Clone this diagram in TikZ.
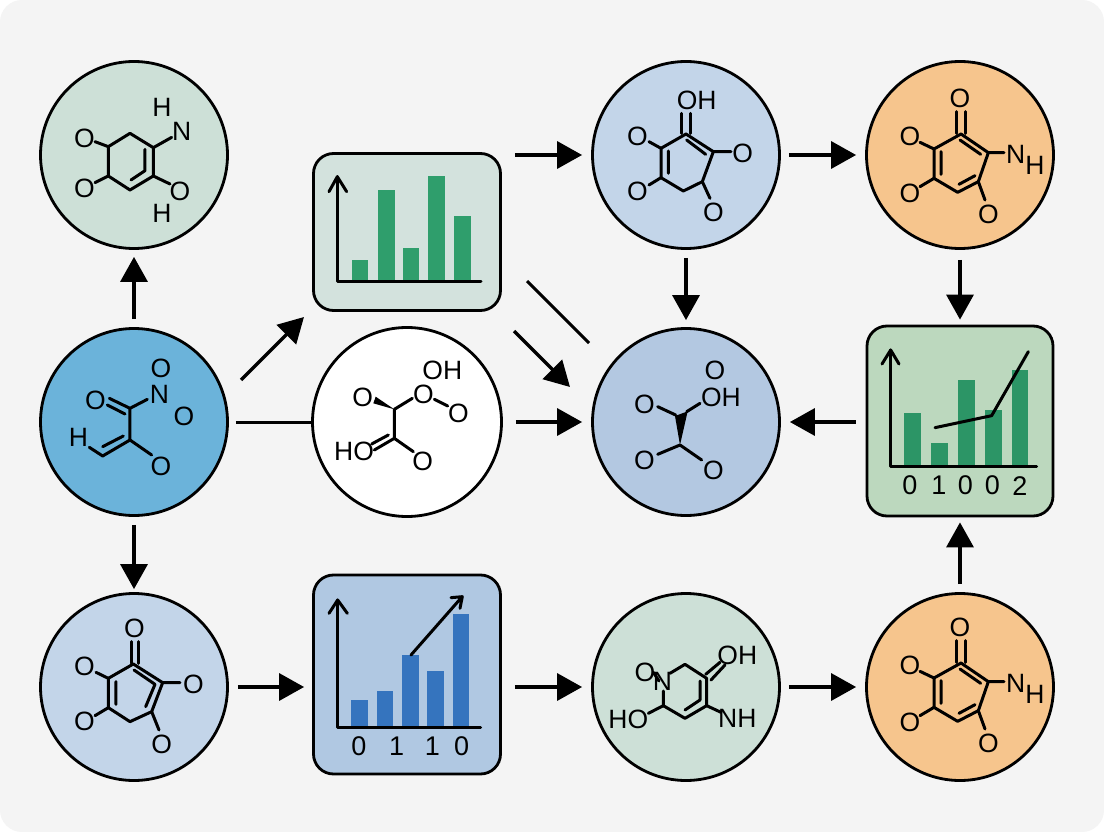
\documentclass[tikz,border=0pt]{standalone}
\usepackage{fontspec}
\setmainfont{Liberation Sans}
\usetikzlibrary{arrows.meta}
\definecolor{pagebg}{HTML}{F4F4F4}
\definecolor{cgreen}{HTML}{CDE0D7}
\definecolor{cblue}{HTML}{6BB3DA}
\definecolor{clight}{HTML}{C3D5E9}
\definecolor{cmid}{HTML}{B3C8E1}
\definecolor{corange}{HTML}{F6C58D}
\definecolor{boxgreen}{HTML}{D3E2DD}
\definecolor{boxmoss}{HTML}{BCD8BE}
\definecolor{boxblue}{HTML}{B0C8E2}
\definecolor{bargreen}{HTML}{2F9E6C}
\definecolor{bardeep}{HTML}{2C9566}
\definecolor{barblue}{HTML}{3574BE}
\newcounter{atomc}
\newcommand{\atom}[2]{\stepcounter{atomc}\node[atomlabel] (atom\theatomc) at (#1) {#2};}
\newcommand{\digit}[2]{\stepcounter{atomc}\node[digitlabel] (atom\theatomc) at (#1) {#2};}
\newcommand{\barsat}[5]{\fill[#1] (#2,#5) rectangle (#3,#4);}
\newcommand{\orangemol}{%
  \draw[bond] (303,237) -- (222,282) -- (222,370) -- (293,412) -- (355,380) -- (385,293) -- cycle;
  \draw[bond] (243,290) -- (243,358) (300,255) -- (362,298) (297,388) -- (345,362);
  \draw[bond] (290,170) -- (290,235) (315,170) -- (315,235);
  \draw[bond] (222,282) -- (180,262) (222,370) -- (180,395) (385,293) -- (432,293) (355,380) -- (375,435);
  \atom{300,130}{O}\atom{150,245}{O}\atom{150,415}{O}\atom{385,478}{O}\atom{467,298}{N}\atom{525,330}{H}%
}
\tikzset{
  x=1pt,y=-1pt,
  circ/.style={circle,draw=black,line width=2.8pt,minimum size=187pt,inner sep=0pt},
  chartbox/.style={rectangle,draw=black,line width=2.8pt,rounded corners=20pt,inner sep=0pt},
  arr/.style={line width=3.4pt,-{Triangle[length=25pt,width=27pt]}},
  plain/.style={line width=3pt},
  bond/.style={line width=3pt,line cap=round,line join=round},
  axisline/.style={line width=3pt,line cap=round,line join=round},
  atomlabel/.style={inner sep=0pt,font=\fontsize{26.5}{26.5}\selectfont},
  digitlabel/.style={inner sep=0pt,font=\fontsize{27}{27}\selectfont},
  zoomed/.style={x=0.33333pt,y=-0.33333pt},
}
\begin{document}
\begin{tikzpicture}
\useasboundingbox (0,0) rectangle (1104,832);
\fill[white] (0,0) rectangle (1104,832);
\fill[pagebg,rounded corners=22pt] (0,0) rectangle (1104,832);

% nodes
\node[circ,fill=cgreen] (c1) at (134,155) {};
\node[circ,fill=cblue] (c2) at (134,422) {};
\node[circ,fill=clight] (c3) at (134,687) {};
\node[circ,fill=white,minimum size=189pt] (c4) at (407,422) {};
\node[circ,fill=clight] (c5) at (686,155) {};
\node[circ,fill=cmid] (c6) at (686,422) {};
\node[circ,fill=cgreen] (c7) at (686,687) {};
\node[circ,fill=corange] (c8) at (960,155) {};
\node[circ,fill=corange] (c9) at (960,687) {};
\node[chartbox,fill=boxgreen,minimum width=187pt,minimum height=157pt] (b1) at (407,232) {};
\node[chartbox,fill=boxblue,minimum width=187pt,minimum height=199pt] (b2) at (407,674.5) {};
\node[chartbox,fill=boxmoss,minimum width=186pt,minimum height=190pt] (b3) at (960,421) {};

% free ends of the diagonal connectors
\coordinate (d1s) at (241,380);
\coordinate (d1e) at (304,317);
\coordinate (d2s) at (527,281);
\coordinate (d2e) at (589,343);
\coordinate (d3s) at (514,331);
\coordinate (d3e) at (570,387);

% connectors
\draw[arr,shorten <=8pt,shorten >=7pt] (c2) -- (c1);
\draw[arr,shorten <=8pt,shorten >=3pt] (c2) -- (c3);
\draw[arr] (d1s) -- (d1e);
\draw[plain,shorten <=7pt] (c2) -- (c4);
\draw[arr,shorten <=13pt,shorten >=9pt] (c4) -- (c6);
\draw[arr,shorten <=13pt,shorten >=9pt] (b1.east |- c5) -- (c5);
\draw[plain] (d2s) -- (d2e);
\draw[arr] (d3s) -- (d3e);
\draw[arr,shorten <=8pt,shorten >=9pt] (c5) -- (c8);
\draw[arr,shorten <=8pt,shorten >=7pt] (c5) -- (c6);
\draw[arr,shorten <=10pt,shorten >=5pt] (c8) -- (b3);
\draw[arr,shorten <=10pt,shorten >=9pt] (b3.west |- c6) -- (c6);
\draw[arr,shorten <=8pt,shorten >=5pt] (c9) -- (b3);
\draw[arr,shorten <=9pt,shorten >=8pt] (c3) -- (b2.west |- c3);
\draw[arr,shorten <=13pt,shorten >=9pt] (b2.east |- c7) -- (c7);
\draw[arr,shorten <=8pt,shorten >=9pt] (c7) -- (c9);

% molecule 1
\begin{scope}[shift={(30,50)},zoomed]
  \draw[bond] (235,290) -- (300,250) -- (370,293) -- (370,378) -- (300,420) -- (235,378) -- cycle;
  \draw[bond] (345,298) -- (345,362) -- (303,390);
  \draw[bond] (235,290) -- (195,275) (235,378) -- (195,398) (370,293) -- (425,262) (370,378) -- (420,402);
  \atom{163,266}{O}\atom{163,416}{O}\atom{455,243}{N}\atom{396,172}{H}\atom{450,425}{O}\atom{396,490}{H}
\end{scope}
% molecule 2
\begin{scope}[shift={(30,320)},zoomed]
  \draw[bond] (238,235) -- (300,265) (232,255) -- (285,282);
  \draw[bond] (300,265) -- (300,360) (300,265) -- (352,238) (300,360) -- (365,405);
  \draw[bond] (178,382) -- (218,408) -- (300,360) (280,348) -- (218,380);
  \atom{196,240}{O}\atom{388,222}{N}\atom{393,145}{O}\atom{462,290}{O}\atom{393,438}{O}\atom{145,352}{H}
\end{scope}
% molecule 3
\begin{scope}[shift={(30,585)},zoomed]
  \draw[bond] (310,237) -- (235,280) -- (235,368) -- (300,410) -- (365,380) -- (398,293) -- cycle;
  \draw[bond] (258,290) -- (258,358) (312,255) -- (375,298) -- (347,365);
  \draw[bond] (305,170) -- (305,235) (325,170) -- (325,235);
  \draw[bond] (235,280) -- (198,262) (235,368) -- (195,392) (398,293) -- (450,293) (365,380) -- (387,435);
  \atom{313,130}{O}\atom{163,243}{O}\atom{163,410}{O}\atom{490,298}{O}\atom{395,478}{O}
\end{scope}
% molecule 4
\begin{scope}[shift={(305,320)},zoomed]
  \fill (268,268) -- (212,230) -- (205,250) -- cycle;
  \draw[bond] (268,268) -- (322,235) (388,238) -- (428,258) (268,268) -- (268,355) (268,355) -- (325,395);
  \draw[bond] (250,345) -- (200,372) (268,355) -- (208,390);
  \atom{173,232}{O}\atom{412,152}{OH}\atom{355,224}{O}\atom{460,280}{O}\atom{353,423}{O}\atom{147,393}{HO}
\end{scope}
% molecule 5
\begin{scope}[shift={(585,55)},zoomed]
  \draw[bond] (303,237) -- (228,280) -- (228,368) -- (295,408) -- (352,380) -- (385,290) -- cycle;
  \draw[bond] (250,288) -- (250,355) (305,255) -- (362,298);
  \draw[bond] (290,175) -- (290,235) (315,175) -- (315,235);
  \draw[bond] (228,280) -- (192,260) (228,368) -- (192,390) (385,290) -- (438,290) (352,380) -- (375,430);
  \atom{335,136}{OH}\atom{157,243}{O}\atom{157,408}{O}\atom{473,295}{O}\atom{385,473}{O}
\end{scope}
% molecule 6
\begin{scope}[shift={(585,320)},zoomed]
  \fill (285,375) -- (270,288) -- (308,274) -- cycle;
  \draw[bond] (305,275) -- (345,250) (272,285) -- (218,260) (285,375) -- (218,403) (285,375) -- (350,420);
  \atom{390,152}{O}\atom{408,232}{OH}\atom{178,252}{O}\atom{178,420}{O}\atom{385,450}{O}
\end{scope}
% molecule 7
\begin{scope}[shift={(585,585)},zoomed]
  \draw[bond] (255,265) -- (300,238) -- (365,280) -- (365,362) -- (300,400) -- (235,362) -- (235,318);
  \draw[bond] (345,288) -- (345,345) -- (300,375);
  \draw[bond] (362,268) -- (405,232) (378,285) -- (420,240);
  \draw[bond] (365,362) -- (408,382) (235,362) -- (190,385) (205,262) -- (222,288);
  \atom{457,210}{OH}\atom{457,400}{NH}\atom{130,402}{HO}\atom{180,262}{O}\atom{232,290}{N}
\end{scope}
% molecules 8 and 9
\begin{scope}[shift={(860,55)},zoomed]
  \orangemol
\end{scope}
\begin{scope}[shift={(860,584)},zoomed]
  \orangemol
\end{scope}

% chart in the green box
\begin{scope}[shift={(305,145)},zoomed]
  \barsat{bargreen}{140}{190}{346}{410}
  \barsat{bargreen}{220}{270}{135}{410}
  \barsat{bargreen}{293}{343}{308}{410}
  \barsat{bargreen}{370}{420}{93}{410}
  \barsat{bargreen}{448}{498}{213}{410}
  \draw[axisline] (97,95) -- (97,410) -- (528,410);
  \draw[axisline] (72,140) -- (97,95) -- (125,140);
\end{scope}
% chart in the blue box
\begin{scope}[shift={(305,565)},zoomed]
  \barsat{barblue}{138}{188}{406}{488}
  \barsat{barblue}{215}{265}{379}{488}
  \barsat{barblue}{291}{341}{270}{488}
  \barsat{barblue}{367}{417}{318}{488}
  \barsat{barblue}{443}{493}{148}{488}
  \draw[axisline] (98,105) -- (98,488) -- (527,488);
  \draw[axisline] (72,145) -- (98,105) -- (127,145);
  \draw[axisline] (318,270) -- (470,97) (438,98) -- (472,95) -- (465,130);
  \digit{162,545}{0}\digit{275,545}{1}\digit{382,545}{1}\digit{470,545}{0}
\end{scope}
% chart in the moss box
\begin{scope}[shift={(860,320)},zoomed]
  \barsat{bardeep}{132}{183}{280}{440}
  \barsat{bardeep}{213}{264}{370}{440}
  \barsat{bardeep}{295}{345}{181}{440}
  \barsat{bardeep}{374}{425}{270}{440}
  \barsat{bardeep}{455}{505}{150}{440}
  \draw[axisline] (92,90) -- (92,440) -- (530,440);
  \draw[axisline] (66,132) -- (92,90) -- (117,132);
  \draw[axisline] (225,323) -- (395,287) -- (505,95);
  \digit{150,497}{0}\digit{237,497}{1}\digit{316,497}{0}\digit{397,497}{0}\digit{480,497}{2}
\end{scope}
\end{tikzpicture}
\end{document}
